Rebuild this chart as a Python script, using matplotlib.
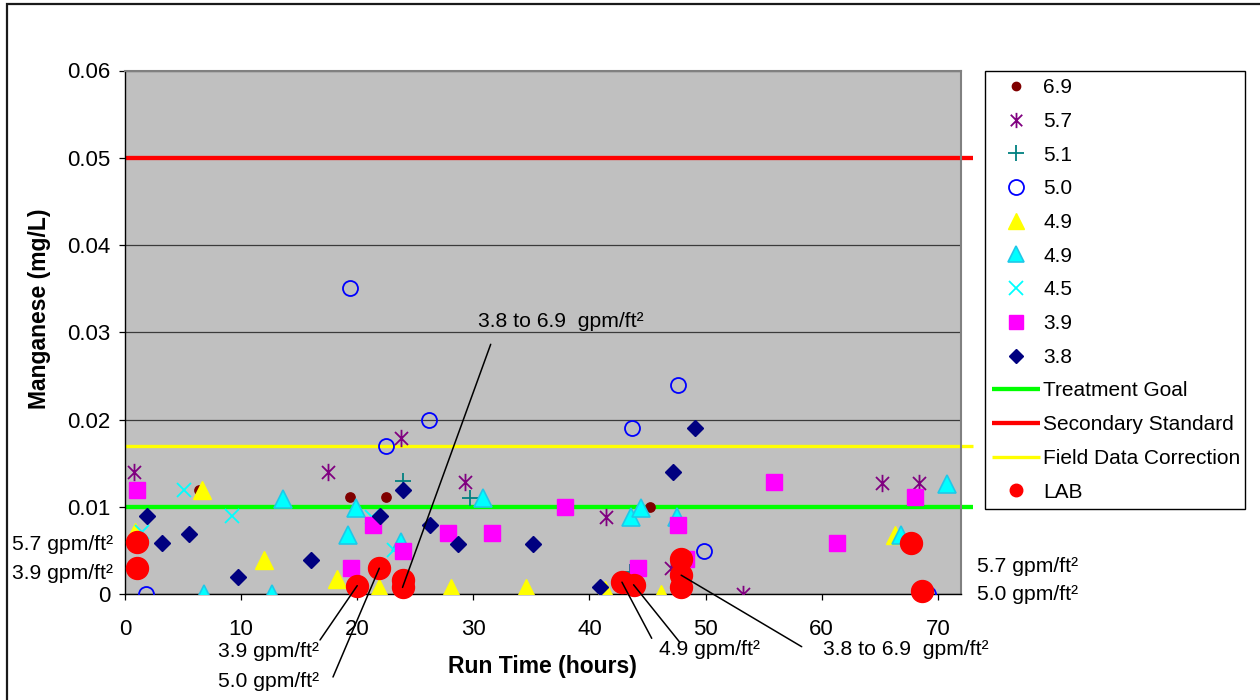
import matplotlib
matplotlib.use("Agg")
import matplotlib.pyplot as plt
from matplotlib.path import Path
from matplotlib.patches import Rectangle
from matplotlib.ticker import FuncFormatter, MultipleLocator

plt.rcParams['font.family'] = ['Liberation Sans', 'DejaVu Sans']

W, H = 1260, 700

# ---------------- data (run time in hours, manganese in mg/L) ----------------
r69_x = [6.4, 19.4, 22.5, 45.2]
r69_y = [0.0120, 0.0111, 0.0111, 0.0100]
r57_x = [0.8, 17.5, 23.8, 29.3, 41.4, 47.0, 53.2, 65.2, 68.4]
r57_y = [0.0140, 0.0140, 0.0179, 0.0129, 0.0089, 0.0030, 0.0, 0.0128, 0.0128]
r51_x = [23.9, 29.7, 43.5]
r51_y = [0.0130, 0.0110, 0.0026]
r50_x = [1.8, 19.4, 22.5, 26.2, 43.7, 47.6, 49.9, 69.2]
r50_y = [0.0, 0.0351, 0.0170, 0.0200, 0.0190, 0.0240, 0.0050, 0.0]
r49y_x = [0.9, 6.6, 12.0, 18.3, 21.9, 28.1, 34.5, 41.3, 46.2, 66.3]
r49y_y = [0.0072, 0.0120, 0.0039, 0.0018, 0.0007, 0.0007, 0.0007, 0.0005, 0.0, 0.0068]
r49c_x = [6.8, 12.7, 13.6, 19.2, 19.9, 23.8, 30.8, 43.6, 44.4, 47.5, 66.8, 70.8]
r49c_y = [0.0, 0.0, 0.0109, 0.0068, 0.0099, 0.0060, 0.0110, 0.0089, 0.0099, 0.0089, 0.0068, 0.0127]
r45_x = [1.5, 5.1, 9.2, 21.3, 23.2]
r45_y = [0.0072, 0.0120, 0.0090, 0.0089, 0.0051]
r39_x = [1.0, 19.5, 21.4, 23.9, 27.8, 31.6, 37.9, 44.2, 47.6, 48.3, 55.9, 61.3, 68.0]
r39_y = [0.0120, 0.0030, 0.0080, 0.0050, 0.0070, 0.0070, 0.0100, 0.0030, 0.0080, 0.0041, 0.0129, 0.0059, 0.0111]
r38_x = [1.9, 3.2, 5.5, 9.7, 16.0, 22.0, 23.9, 26.3, 28.7, 35.1, 40.9, 47.2, 49.1]
r38_y = [0.0090, 0.0059, 0.0069, 0.0020, 0.0039, 0.0090, 0.0120, 0.0079, 0.0058, 0.0058, 0.0009, 0.0140, 0.0190]
lab_x = [1.0, 1.0, 20.0, 21.9, 23.9, 23.9, 42.8, 43.8, 47.9, 47.9, 47.9, 67.7, 68.6]
lab_y = [0.0060, 0.0030, 0.0010, 0.0030, 0.0017, 0.0008, 0.0014, 0.0011, 0.0040, 0.0022, 0.0009, 0.0059, 0.0004]

line_x = [0, 73]
treatment_goal = 0.01
secondary_standard = 0.05
field_correction = 0.017

series_labels = ["6.9", "5.7", "5.1", "5.0", "4.9", "4.9", "4.5", "3.9", "3.8"]
x_ticks = [0, 10, 20, 30, 40, 50, 60, 70]
y_ticks = [0, 0.01, 0.02, 0.03, 0.04, 0.05, 0.06]

# ---------------- figure ----------------
fig = plt.figure(figsize=(W / 100, H / 100), dpi=100)
ax = fig.add_axes([125 / W, 1 - 594.4 / H, 836 / W, 523.9 / H])
ax.set_facecolor('#C0C0C0')

def fx(px):
    return px / W

def fy(py):
    return 1 - py / H

# asterisk marker: vertical bar plus an X
ast = Path([(0, -1), (0, 1), (-0.75, -0.75), (0.75, 0.75), (-0.75, 0.75), (0.75, -0.75)],
           [Path.MOVETO, Path.LINETO, Path.MOVETO, Path.LINETO, Path.MOVETO, Path.LINETO])

h69, = ax.plot(r69_x, r69_y, ls='none', marker='o', ms=6.7, color='#800000', zorder=3)
h57, = ax.plot(r57_x, r57_y, ls='none', marker=ast, ms=12.5, mew=1.3, color='#800080',
               mfc='none', zorder=3)
h51, = ax.plot(r51_x, r51_y, ls='none', marker='+', ms=11.5, mew=1.3, color='#008080', zorder=3)
h50, = ax.plot(r50_x, r50_y, ls='none', marker='o', ms=10.8, mew=1.3, mec='#0000FF',
               mfc='none', zorder=3)
h49y, = ax.plot(r49y_x, r49y_y, ls='none', marker='^', ms=12.3, mfc='#FFFF00', mec='#FFFF00',
                zorder=3)
h49c, = ax.plot(r49c_x, r49c_y, ls='none', marker='^', ms=12.3, mfc='#00FFFF', mec='#20C8E8',
                mew=1.2, zorder=3)
h45, = ax.plot(r45_x, r45_y, ls='none', marker='x', ms=10.5, mew=1.3, color='#00FFFF', zorder=3)
h39, = ax.plot(r39_x, r39_y, ls='none', marker='s', ms=11, color='#FF00FF', zorder=3)
h38, = ax.plot(r38_x, r38_y, ls='none', marker='D', ms=8.3, color='#000080', zorder=3)

hg, = ax.plot(line_x, [treatment_goal] * 2, color='#00FF00', lw=3.1, zorder=2.5,
              clip_on=False, solid_capstyle='butt')
hs, = ax.plot(line_x, [secondary_standard] * 2, color='#FF0000', lw=3.1, zorder=2.5,
              clip_on=False, solid_capstyle='butt')
hf, = ax.plot(line_x, [field_correction] * 2, color='#FFFF00', lw=2.4, zorder=2.5,
              clip_on=False, solid_capstyle='butt')

hl, = ax.plot(lab_x, lab_y, ls='none', marker='o', ms=15.8, color='#FF0000', zorder=4,
              clip_on=False)

ax.set_xlim(0, 72)
ax.set_ylim(0, 0.06)
ax.xaxis.set_major_locator(MultipleLocator(10))
ax.set_xticks(x_ticks)
ax.set_yticks(y_ticks)
ax.yaxis.set_major_formatter(FuncFormatter(lambda v, p: '0' if abs(v) < 1e-12 else f'{v:.2f}'))
ax.yaxis.grid(True, color='#3a3a3a', lw=0.9)
ax.set_axisbelow(True)
ax.tick_params(axis='both', direction='out', length=4.5, width=0.9, labelsize=16, colors='black')
ax.tick_params(axis='x', pad=13)
ax.tick_params(axis='y', pad=6)
for s in ['left', 'bottom']:
    ax.spines[s].set_color('black')
    ax.spines[s].set_linewidth(1.0)
for s in ['top', 'right']:
    ax.spines[s].set_color('#808080')
    ax.spines[s].set_linewidth(1.5)

# axis titles
fig.text(fx(542), fy(667), 'Run Time (hours)', ha='center', va='center',
         fontsize=16.5, fontweight='bold')
fig.text(fx(40), fy(309), 'Manganese (mg/L)', ha='center', va='center', rotation=90,
         fontsize=16.5, fontweight='bold')

# annotations
afs = 15.2
def label(px, py, s):
    fig.text(fx(px), fy(py), s, ha='left', va='baseline', fontsize=afs)

def connector(px, py, i):
    ax.annotate('', xy=(lab_x[i], lab_y[i]), xycoords='data',
                xytext=(fx(px), fy(py)), textcoords='figure fraction',
                arrowprops=dict(arrowstyle='-', color='black', lw=1.1,
                                shrinkA=0, shrinkB=0), annotation_clip=False, zorder=5)

label(478, 326.7, '3.8 to 6.9  gpm/ft²')
connector(490.7, 344.3, 5)
label(218, 656.7, '3.9 gpm/ft²')
connector(320, 640, 2)
label(218, 687.3, '5.0 gpm/ft²')
connector(333, 677, 3)
label(659, 655, '4.9 gpm/ft²')
connector(651.7, 638.3, 6)
connector(679.3, 641.7, 7)
label(822.7, 655, '3.8 to 6.9  gpm/ft²')
connector(801.7, 646.7, 9)
label(976.7, 571.7, '5.7 gpm/ft²')
label(976.7, 600, '5.0 gpm/ft²')
label(12.3, 550, '5.7 gpm/ft²')
label(12.3, 579.3, '3.9 gpm/ft²')

# legend
handles = [h69, h57, h51, h50, h49y, h49c, h45, h39, h38, hg, hs, hf, hl]
labels = series_labels + ['Treatment Goal', 'Secondary Standard', 'Field Data Correction', 'LAB']
leg = fig.legend(handles, labels, loc='upper left',
                 bbox_to_anchor=(fx(985), fy(71), 260 / W, 0), mode='expand',
                 borderaxespad=0, fontsize=15, frameon=True, fancybox=False,
                 edgecolor='black', framealpha=1, handlelength=2.3, handletextpad=0.15,
                 borderpad=0.35, labelspacing=0.705, numpoints=1)
leg.get_frame().set_linewidth(1.0)
lh = leg.legend_handles
lh[12].set_markersize(9)
lh[0].set_markersize(6)
lh[1].set_markersize(11)
lh[4].set_markersize(11)
lh[5].set_markersize(11)
lh[7].set_markersize(9.5)
lh[8].set_markersize(7.5)

for py, s in [(170, 'Filter Loading'), (197.7, 'Rate-'), (226.5, '(gpm/ft²)')]:
    fig.text(fx(1165), fy(py), s, ha='center', va='baseline', fontsize=15)

# outer chart border
fig.patches.append(Rectangle((fx(7), -0.1), 1.2, fy(4) + 0.1, transform=fig.transFigure,
                             fill=False, edgecolor='#1a1a1a', lw=1.6, clip_on=False))

fig.savefig('out.png', dpi=100)
